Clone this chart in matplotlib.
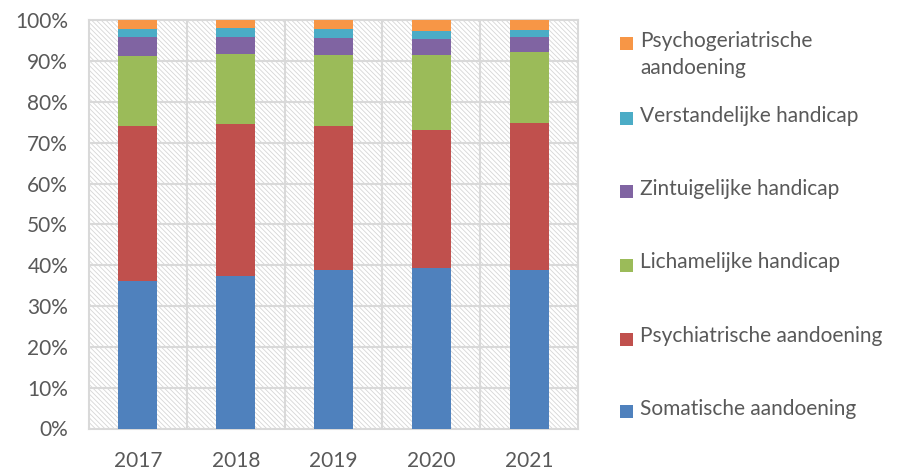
import matplotlib
matplotlib.use("Agg")
import matplotlib.pyplot as plt
from matplotlib.patches import Rectangle
import numpy as np

years = ["2017", "2018", "2019", "2020", "2021"]
series_names = [
    "Somatische aandoening",
    "Psychiatrische aandoening",
    "Lichamelijke handicap",
    "Zintuigelijke handicap",
    "Verstandelijke handicap",
    "Psychogeriatrische\naandoening",
]
somatisch = [36.2, 37.4, 38.8, 39.2, 38.8]
psychiatrisch = [37.8, 37.2, 35.3, 34.0, 35.9]
lichamelijk = [17.3, 17.2, 17.4, 18.3, 17.4]
zintuigelijk = [4.5, 4.2, 4.1, 4.0, 3.9]
verstandelijk = [2.0, 2.1, 2.2, 1.8, 1.7]
psychogeriatrisch = [2.2, 1.9, 2.2, 2.7, 2.3]
colors = ["#4F81BD", "#C0504D", "#9BBB59", "#8064A2", "#4BACC6", "#F79646"]

plt.rcParams["font.family"] = ["Lato", "DejaVu Sans"]
plt.rcParams["hatch.linewidth"] = 0.6

txt = "#595959"
grid_c = "#d9d9d9"
hatch_c = "#d6d6d6"

fig = plt.figure(figsize=(9.02, 4.71), dpi=100)
ax = fig.add_axes([89 / 902, 42.5 / 471, 489 / 902, 408.3 / 471])

# hatched plot-area background
ax.add_patch(Rectangle((0, 0), 1, 1, transform=ax.transAxes, facecolor="white",
                       edgecolor=hatch_c, linewidth=0, hatch="\\" * 7, zorder=0.5))

data = [somatisch, psychiatrisch, lichamelijk, zintuigelijk, verstandelijk, psychogeriatrisch]
x = np.arange(len(years))
bottom = np.zeros(len(years))
for vals, c in zip(data, colors):
    vals = np.array(vals) / 100.0
    ax.bar(x, vals, width=0.4, bottom=bottom, color=c, edgecolor="none", zorder=3)
    bottom += vals

ax.set_xlim(-0.5, len(years) - 0.5)
ax.set_ylim(0, 1)
ax.set_yticks(np.arange(0, 1.01, 0.1))
ax.set_yticklabels([f"{int(round(v * 100))}%" for v in np.arange(0, 1.01, 0.1)])
ax.set_xticks(x)
ax.set_xticklabels(years)
ax.tick_params(length=0, labelsize=15, colors=txt)
ax.tick_params(axis="y", pad=15)
ax.tick_params(axis="x", pad=16)

# category dividers and value gridlines
for v in np.arange(0.1, 1.0, 0.1):
    ax.axhline(v, color=grid_c, lw=1.5, zorder=1)
for xv in np.arange(0.5, len(years) - 0.5, 1.0):
    ax.axvline(xv, color=grid_c, lw=1.5, zorder=1)
for s in ax.spines.values():
    s.set_color(grid_c)
    s.set_linewidth(1.5)

# legend, top entry first
legend_y = [43.5, 118.8, 191.5, 265.0, 339.0, 411.5]
for name, c, yy in zip(series_names[::-1], colors[::-1], legend_y):
    fig.patches.append(Rectangle((620 / 902, 1 - (yy + 6.5) / 471), 13 / 902, 13 / 471,
                                 transform=fig.transFigure, facecolor=c, edgecolor="none"))
    fig.text(640 / 902, 1 - (yy - 12.5) / 471, name, fontsize=15, color=txt,
             va="top", ha="left", linespacing=1.45)

fig.savefig("out.png", dpi=100)
